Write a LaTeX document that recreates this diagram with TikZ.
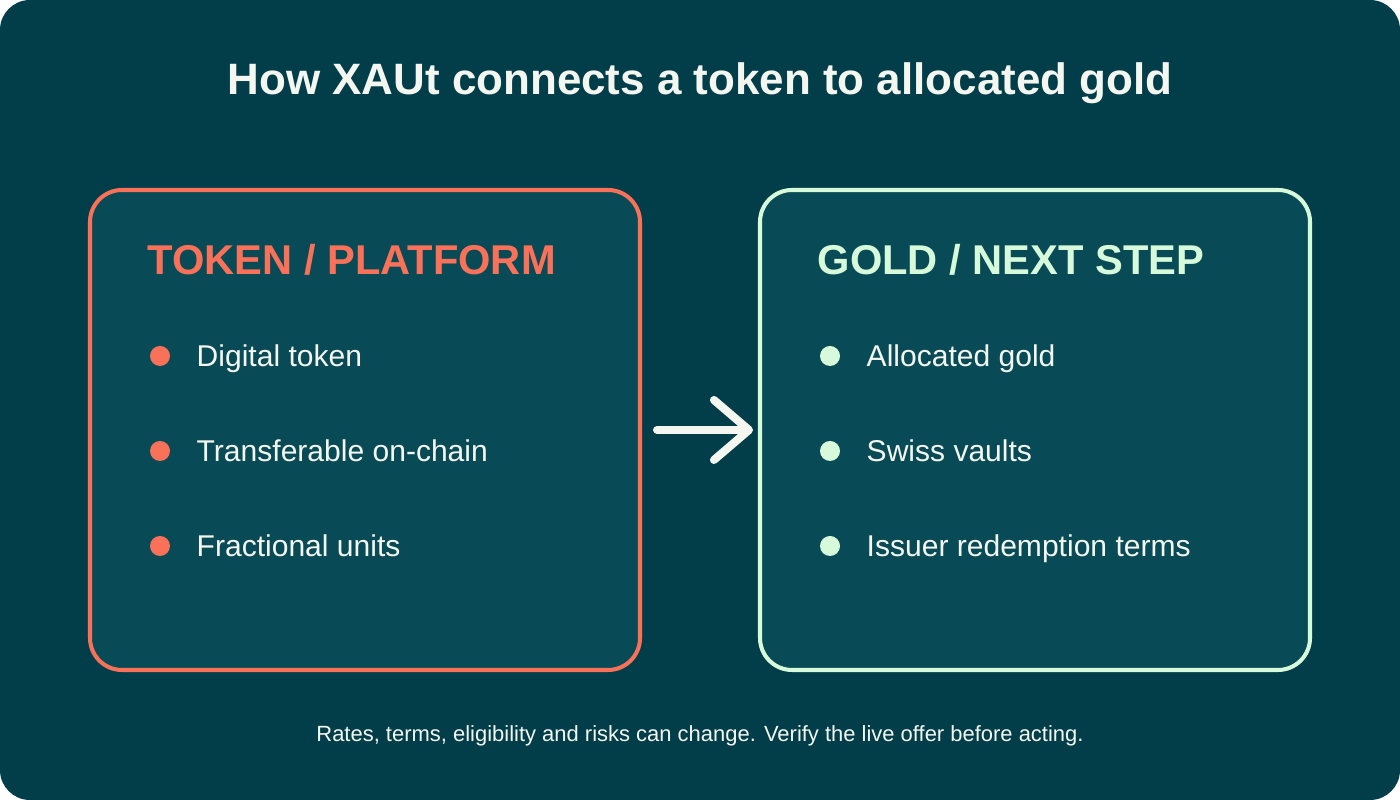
\documentclass[tikz,border=0pt]{standalone}
\usepackage{fontspec}
\setmainfont{Liberation Sans}
\usetikzlibrary{arrows.meta, positioning}

\definecolor{bgteal}{RGB}{2,61,74}
\definecolor{panelteal}{RGB}{8,75,86}
\definecolor{coral}{RGB}{250,113,90}
\definecolor{mint}{RGB}{214,250,218}
\definecolor{offwhite}{RGB}{243,247,240}

\begin{document}
\begin{tikzpicture}[
    panel/.style={draw, line width=1.15pt, rounded corners=3.2mm, fill=panelteal,
        minimum width=5.5cm, minimum height=4.8cm, inner sep=0pt},
    head/.style={font=\bfseries\fontsize{11.85}{14}\selectfont, anchor=base west, inner sep=0pt},
    item/.style={text=offwhite, font=\fontsize{8.55}{10}\selectfont, anchor=base west, inner sep=0pt},
    flow/.style={offwhite, line width=2.3pt, line cap=round,
        -{Straight Barb[length=3.5mm, width=6mm, round]}}
]
    \fill[bgteal, rounded corners=3mm] (0,0) rectangle (14,8);
    \node[text=offwhite, font=\bfseries\fontsize{12.5}{15}\selectfont, anchor=base] (title)
        at (7,7.05) {How XAUt connects a token to allocated gold};

    \node[panel, draw=coral] (tok) at (3.65,3.7) {};
    \node[panel, draw=mint] (gold) at (10.35,3.7) {};

    \node[head, text=coral] (tokhead) at (1.47,5.25) {TOKEN / PLATFORM};
    \node[head, text=mint] (goldhead) at (8.17,5.25) {GOLD / NEXT STEP};

    \foreach \t [count=\i] in {Digital token, Transferable on-chain, Fractional units} {
        \fill[coral] (1.6,{4.44-(\i-1)*0.95}) circle (1mm);
        \node[item] (tok\i) at (1.96,{4.33-(\i-1)*0.95}) {\t};
    }
    \foreach \t [count=\i] in {Allocated gold, Swiss vaults, Issuer redemption terms} {
        \fill[mint] (8.3,{4.44-(\i-1)*0.95}) circle (1mm);
        \node[item] (gold\i) at (8.66,{4.33-(\i-1)*0.95}) {\t};
    }

    \draw[flow] ([xshift=1.5mm]tok.east) -- ([xshift=-0.5mm]gold.west);

    \node[text=offwhite, font=\fontsize{6.25}{7}\selectfont, anchor=base] (note) at (7,0.58)
        {Rates, terms, eligibility and risks can change. Verify the live offer before acting.};
\end{tikzpicture}
\end{document}
